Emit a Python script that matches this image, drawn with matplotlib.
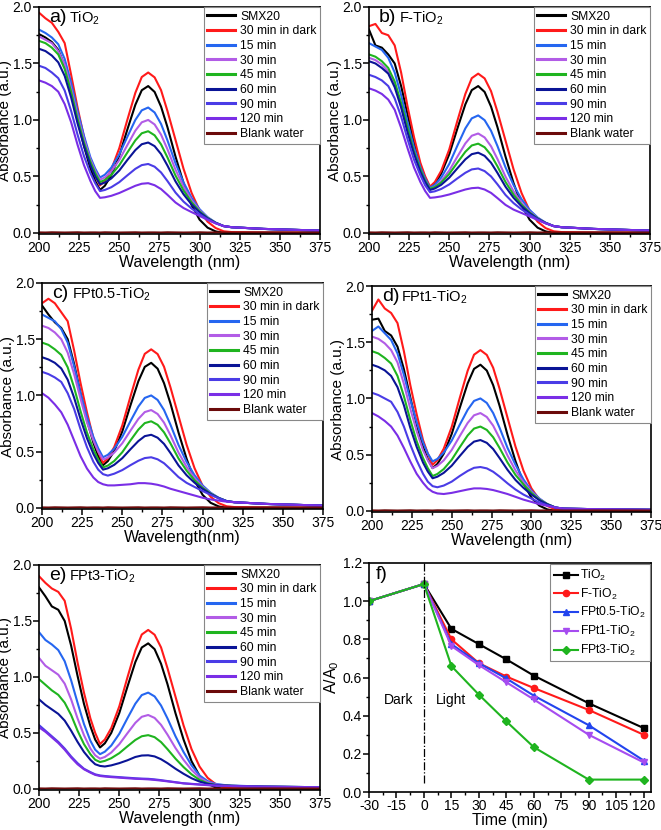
import matplotlib
matplotlib.use('Agg')
import matplotlib.pyplot as plt
from matplotlib.ticker import MultipleLocator

plt.rcParams['font.family'] = ['Liberation Sans', 'DejaVu Sans']
plt.rcParams['mathtext.default'] = 'regular'
plt.rcParams['axes.unicode_minus'] = False

WL = [200, 204, 208, 212, 216, 220, 224, 228, 232, 235, 238, 241, 245, 250, 255, 260,
      264, 268, 272, 276, 280, 285, 290, 295, 300, 305, 310, 315, 320, 340, 375]

LABELS = ['SMX20', '30 min in dark', '15 min', '30 min', '45 min', '60 min',
          '90 min', '120 min', 'Blank water']
COLORS = ['#000000', '#ff1a1a', '#2566f0', '#b25ce6', '#1fb41f', '#0a1496',
          '#4a3ce6', '#7a2ee6', '#6b0a0a']

BLANK = [0.004, 0.003, 0.005, 0.004, 0.003, 0.004, 0.005, 0.003, 0.004, 0.004, 0.003,
         0.005, 0.004, 0.003, 0.004, 0.005, 0.003, 0.004, 0.004, 0.003, 0.005, 0.004,
         0.003, 0.004, 0.005, 0.003, 0.004, 0.004, 0.003, 0.004, 0.003]

# ---- a) TiO2
A_SMX = [1.76, 1.73, 1.69, 1.62, 1.48, 1.26, 1.00, 0.77, 0.57, 0.46, 0.38, 0.417, 0.509, 0.684, 0.914, 1.134,
         1.263, 1.30, 1.248, 1.118, 0.936, 0.676, 0.442, 0.247, 0.117, 0.046, 0.013, 0.0, 0.0, 0.0, 0.0]
A_DARK = [1.95, 1.90, 1.86, 1.78, 1.68, 1.40, 1.11, 0.85, 0.63, 0.51, 0.42, 0.46, 0.56, 0.75, 1.00, 1.24,
          1.38, 1.42, 1.377, 1.264, 1.079, 0.824, 0.568, 0.355, 0.199, 0.099, 0.043, 0.014, 0.007, 0.003, 0.002]
A_15 = [1.80, 1.77, 1.73, 1.67, 1.54, 1.33, 1.08, 0.86, 0.67, 0.57, 0.49, 0.515, 0.577, 0.695, 0.85, 1.00,
        1.085, 1.11, 1.066, 0.965, 0.819, 0.617, 0.447, 0.311, 0.21, 0.139, 0.091, 0.06, 0.05, 0.035, 0.02]
A_30 = [1.74, 1.71, 1.68, 1.61, 1.49, 1.28, 1.04, 0.83, 0.65, 0.55, 0.47, 0.491, 0.544, 0.645, 0.777, 0.905,
        0.979, 1.00, 0.96, 0.87, 0.74, 0.56, 0.41, 0.29, 0.20, 0.135, 0.09, 0.06, 0.05, 0.035, 0.02]
A_45 = [1.70, 1.68, 1.64, 1.58, 1.45, 1.25, 1.01, 0.80, 0.63, 0.53, 0.45, 0.468, 0.513, 0.599, 0.711, 0.819,
        0.882, 0.90, 0.864, 0.784, 0.668, 0.508, 0.376, 0.271, 0.191, 0.132, 0.089, 0.06, 0.05, 0.035, 0.02]
A_60 = [1.63, 1.61, 1.57, 1.51, 1.39, 1.20, 0.97, 0.77, 0.60, 0.50, 0.43, 0.445, 0.482, 0.552, 0.645, 0.733,
        0.785, 0.80, 0.768, 0.698, 0.596, 0.456, 0.342, 0.252, 0.182, 0.128, 0.088, 0.06, 0.05, 0.035, 0.02]
A_90 = [1.48, 1.46, 1.42, 1.37, 1.26, 1.08, 0.87, 0.68, 0.53, 0.44, 0.37, 0.38, 0.404, 0.449, 0.509, 0.567,
        0.60, 0.61, 0.586, 0.535, 0.459, 0.357, 0.277, 0.216, 0.165, 0.121, 0.086, 0.06, 0.05, 0.035, 0.02]
A_120 = [1.35, 1.33, 1.30, 1.25, 1.14, 0.98, 0.78, 0.60, 0.46, 0.37, 0.31, 0.315, 0.328, 0.353, 0.385, 0.417,
         0.435, 0.44, 0.422, 0.388, 0.337, 0.269, 0.22, 0.184, 0.15, 0.115, 0.084, 0.06, 0.05, 0.035, 0.02]

# ---- b) F-TiO2
B_SMX = [1.80, 1.66, 1.64, 1.58, 1.50, 1.30, 1.05, 0.80, 0.60, 0.48, 0.40, 0.436, 0.526, 0.697, 0.922, 1.138,
         1.264, 1.30, 1.248, 1.118, 0.936, 0.676, 0.442, 0.247, 0.117, 0.046, 0.013, 0.0, 0.0, 0.0, 0.0]
B_DARK = [1.83, 1.85, 1.77, 1.75, 1.66, 1.42, 1.12, 0.85, 0.62, 0.50, 0.41, 0.45, 0.55, 0.74, 0.99, 1.23,
          1.37, 1.41, 1.368, 1.255, 1.072, 0.818, 0.564, 0.353, 0.197, 0.099, 0.042, 0.014, 0.007, 0.003, 0.002]
B_15 = [1.68, 1.65, 1.62, 1.55, 1.42, 1.22, 0.98, 0.76, 0.58, 0.48, 0.40, 0.426, 0.49, 0.611, 0.771, 0.925,
        1.014, 1.04, 0.998, 0.904, 0.769, 0.581, 0.424, 0.298, 0.204, 0.136, 0.09, 0.06, 0.05, 0.035, 0.02]
B_30 = [1.55, 1.53, 1.49, 1.43, 1.32, 1.13, 0.91, 0.72, 0.55, 0.46, 0.39, 0.41, 0.459, 0.552, 0.674, 0.792,
        0.86, 0.88, 0.845, 0.767, 0.654, 0.498, 0.369, 0.267, 0.189, 0.131, 0.089, 0.06, 0.05, 0.035, 0.02]
B_45 = [1.58, 1.56, 1.52, 1.46, 1.34, 1.15, 0.93, 0.72, 0.56, 0.46, 0.39, 0.406, 0.446, 0.522, 0.622, 0.718,
        0.774, 0.79, 0.758, 0.689, 0.589, 0.451, 0.339, 0.25, 0.181, 0.128, 0.088, 0.06, 0.05, 0.035, 0.02]
B_60 = [1.52, 1.50, 1.46, 1.41, 1.29, 1.11, 0.89, 0.70, 0.54, 0.45, 0.38, 0.393, 0.426, 0.489, 0.571, 0.651,
        0.697, 0.71, 0.682, 0.621, 0.531, 0.409, 0.311, 0.235, 0.174, 0.125, 0.087, 0.06, 0.05, 0.035, 0.02]
B_90 = [1.40, 1.38, 1.35, 1.30, 1.19, 1.03, 0.83, 0.65, 0.51, 0.42, 0.36, 0.368, 0.389, 0.429, 0.482, 0.532,
        0.562, 0.57, 0.547, 0.50, 0.43, 0.336, 0.264, 0.208, 0.161, 0.12, 0.086, 0.06, 0.05, 0.035, 0.02]
B_120 = [1.28, 1.26, 1.23, 1.18, 1.09, 0.93, 0.75, 0.58, 0.45, 0.37, 0.31, 0.314, 0.323, 0.34, 0.362, 0.384,
         0.396, 0.40, 0.384, 0.354, 0.308, 0.248, 0.206, 0.176, 0.146, 0.114, 0.084, 0.06, 0.05, 0.035, 0.02]

# ---- c) FPt0.5-TiO2
C_SMX = [1.80, 1.72, 1.65, 1.60, 1.50, 1.28, 1.02, 0.78, 0.58, 0.46, 0.38, 0.416, 0.507, 0.68, 0.908, 1.126,
         1.254, 1.29, 1.238, 1.109, 0.929, 0.671, 0.439, 0.245, 0.116, 0.045, 0.013, 0.0, 0.0, 0.0, 0.0]
C_DARK = [1.82, 1.86, 1.82, 1.74, 1.66, 1.40, 1.11, 0.85, 0.62, 0.50, 0.40, 0.44, 0.541, 0.733, 0.986, 1.228,
          1.37, 1.41, 1.368, 1.255, 1.072, 0.818, 0.564, 0.353, 0.197, 0.099, 0.042, 0.014, 0.007, 0.003, 0.002]
C_15 = [1.72, 1.69, 1.66, 1.59, 1.47, 1.26, 1.02, 0.81, 0.63, 0.53, 0.45, 0.472, 0.527, 0.632, 0.769, 0.901,
        0.978, 1.00, 0.96, 0.87, 0.74, 0.56, 0.41, 0.29, 0.20, 0.135, 0.09, 0.06, 0.05, 0.035, 0.02]
C_30 = [1.62, 1.60, 1.56, 1.50, 1.38, 1.19, 0.97, 0.76, 0.60, 0.50, 0.43, 0.448, 0.492, 0.575, 0.685, 0.791,
        0.852, 0.87, 0.835, 0.758, 0.646, 0.492, 0.366, 0.265, 0.188, 0.13, 0.089, 0.06, 0.05, 0.035, 0.02]
C_45 = [1.47, 1.45, 1.41, 1.36, 1.25, 1.07, 0.86, 0.67, 0.52, 0.43, 0.36, 0.376, 0.417, 0.495, 0.598, 0.696,
        0.754, 0.77, 0.739, 0.672, 0.574, 0.44, 0.332, 0.246, 0.179, 0.127, 0.088, 0.06, 0.05, 0.035, 0.02]
C_60 = [1.34, 1.32, 1.29, 1.24, 1.14, 0.98, 0.79, 0.62, 0.48, 0.40, 0.34, 0.352, 0.383, 0.442, 0.52, 0.594,
        0.638, 0.65, 0.624, 0.569, 0.488, 0.378, 0.291, 0.224, 0.169, 0.123, 0.087, 0.06, 0.05, 0.035, 0.02]
C_90 = [1.21, 1.19, 1.16, 1.12, 1.02, 0.88, 0.70, 0.54, 0.41, 0.34, 0.30, 0.287, 0.304, 0.336, 0.379, 0.419,
        0.443, 0.45, 0.432, 0.397, 0.344, 0.274, 0.223, 0.186, 0.15, 0.116, 0.085, 0.06, 0.05, 0.035, 0.02]
C_120 = [1.02, 0.98, 0.92, 0.85, 0.74, 0.60, 0.46, 0.35, 0.27, 0.23, 0.21, 0.20, 0.20, 0.205, 0.21, 0.22,
         0.22, 0.215, 0.205, 0.19, 0.17, 0.15, 0.13, 0.11, 0.09, 0.075, 0.065, 0.055, 0.05, 0.035, 0.02]

# ---- d) FPt1-TiO2
D_SMX = [1.70, 1.71, 1.60, 1.56, 1.46, 1.26, 1.01, 0.77, 0.57, 0.46, 0.38, 0.417, 0.509, 0.684, 0.914, 1.134,
         1.263, 1.30, 1.248, 1.118, 0.936, 0.676, 0.442, 0.247, 0.117, 0.046, 0.013, 0.0, 0.0, 0.0, 0.0]
D_DARK = [1.78, 1.88, 1.80, 1.76, 1.67, 1.42, 1.12, 0.86, 0.63, 0.51, 0.41, 0.451, 0.553, 0.747, 1.002, 1.246,
          1.389, 1.43, 1.387, 1.273, 1.087, 0.829, 0.572, 0.358, 0.20, 0.10, 0.043, 0.014, 0.007, 0.003, 0.002]
D_15 = [1.60, 1.64, 1.58, 1.52, 1.40, 1.21, 0.99, 0.79, 0.61, 0.51, 0.44, 0.462, 0.518, 0.625, 0.765, 0.899,
        0.978, 1.00, 0.96, 0.87, 0.74, 0.56, 0.41, 0.28, 0.18, 0.11, 0.06, 0.03, 0.02, 0.015, 0.01]
D_30 = [1.55, 1.53, 1.49, 1.43, 1.32, 1.13, 0.91, 0.71, 0.54, 0.45, 0.38, 0.40, 0.449, 0.542, 0.664, 0.782,
        0.85, 0.87, 0.835, 0.758, 0.646, 0.492, 0.36, 0.255, 0.17, 0.105, 0.06, 0.03, 0.02, 0.015, 0.01]
D_45 = [1.42, 1.40, 1.36, 1.31, 1.20, 1.02, 0.81, 0.62, 0.47, 0.38, 0.31, 0.328, 0.372, 0.455, 0.565, 0.671,
        0.732, 0.75, 0.72, 0.655, 0.56, 0.43, 0.32, 0.235, 0.16, 0.10, 0.06, 0.03, 0.02, 0.015, 0.01]
D_60 = [1.30, 1.28, 1.25, 1.20, 1.10, 0.94, 0.74, 0.57, 0.43, 0.35, 0.29, 0.304, 0.338, 0.402, 0.487, 0.569,
        0.616, 0.63, 0.605, 0.55, 0.47, 0.365, 0.275, 0.205, 0.145, 0.095, 0.058, 0.03, 0.02, 0.015, 0.01]
D_90 = [1.05, 1.03, 1.00, 0.97, 0.88, 0.75, 0.59, 0.45, 0.33, 0.26, 0.22, 0.21, 0.225, 0.26, 0.31, 0.355,
        0.383, 0.39, 0.378, 0.348, 0.305, 0.245, 0.19, 0.145, 0.11, 0.075, 0.05, 0.03, 0.02, 0.015, 0.01]
D_120 = [0.87, 0.84, 0.80, 0.75, 0.67, 0.56, 0.44, 0.33, 0.25, 0.20, 0.17, 0.155, 0.15, 0.16, 0.175, 0.19,
         0.20, 0.20, 0.195, 0.185, 0.17, 0.15, 0.125, 0.10, 0.08, 0.06, 0.045, 0.03, 0.02, 0.015, 0.01]

# ---- e) FPt3-TiO2
E_SMX = [1.80, 1.72, 1.63, 1.60, 1.50, 1.28, 1.01, 0.76, 0.56, 0.44, 0.37, 0.407, 0.50, 0.677, 0.909, 1.133,
         1.263, 1.30, 1.248, 1.118, 0.936, 0.676, 0.442, 0.247, 0.117, 0.046, 0.013, 0.0, 0.0, 0.0, 0.0]
E_DARK = [1.90, 1.84, 1.79, 1.76, 1.68, 1.43, 1.13, 0.86, 0.63, 0.50, 0.40, 0.441, 0.543, 0.737, 0.992, 1.236,
          1.379, 1.42, 1.377, 1.264, 1.079, 0.824, 0.568, 0.355, 0.199, 0.099, 0.043, 0.014, 0.007, 0.003, 0.002]
E_15 = [1.40, 1.33, 1.29, 1.24, 1.14, 0.97, 0.77, 0.58, 0.43, 0.35, 0.31, 0.332, 0.387, 0.492, 0.629, 0.761,
        0.838, 0.86, 0.826, 0.745, 0.63, 0.47, 0.33, 0.21, 0.12, 0.07, 0.045, 0.035, 0.03, 0.02, 0.015]
E_30 = [1.17, 1.10, 1.06, 1.02, 0.94, 0.80, 0.63, 0.48, 0.36, 0.30, 0.27, 0.285, 0.325, 0.399, 0.496, 0.59,
        0.644, 0.66, 0.634, 0.572, 0.485, 0.365, 0.26, 0.17, 0.10, 0.06, 0.04, 0.032, 0.028, 0.02, 0.015]
E_45 = [0.98, 0.93, 0.88, 0.84, 0.77, 0.66, 0.52, 0.40, 0.31, 0.26, 0.24, 0.25, 0.274, 0.319, 0.379, 0.437,
        0.47, 0.48, 0.462, 0.418, 0.355, 0.27, 0.195, 0.13, 0.08, 0.05, 0.035, 0.03, 0.027, 0.02, 0.015]
E_60 = [0.80, 0.75, 0.71, 0.67, 0.61, 0.52, 0.42, 0.33, 0.26, 0.22, 0.205, 0.20, 0.21, 0.23, 0.255, 0.285,
        0.298, 0.30, 0.29, 0.265, 0.23, 0.18, 0.135, 0.095, 0.065, 0.045, 0.035, 0.03, 0.027, 0.02, 0.015]
E_90 = [0.57, 0.52, 0.47, 0.42, 0.36, 0.29, 0.23, 0.18, 0.15, 0.13, 0.12, 0.115, 0.11, 0.105, 0.10, 0.095,
        0.092, 0.09, 0.085, 0.078, 0.07, 0.06, 0.05, 0.045, 0.04, 0.035, 0.03, 0.028, 0.025, 0.02, 0.015]
E_120 = [0.55, 0.51, 0.46, 0.41, 0.35, 0.28, 0.22, 0.175, 0.145, 0.125, 0.115, 0.11, 0.105, 0.10, 0.095, 0.09,
         0.088, 0.085, 0.08, 0.074, 0.067, 0.058, 0.049, 0.043, 0.038, 0.033, 0.029, 0.027, 0.024, 0.019, 0.014]

# ---- f) A/A0 vs time
TIME = [-30, 0, 15, 30, 45, 60, 90, 120]
K_TIO2 = [1.0, 1.09, 0.855, 0.775, 0.695, 0.61, 0.465, 0.335]
K_F = [1.0, 1.09, 0.80, 0.675, 0.605, 0.545, 0.43, 0.30]
K_FPT05 = [1.0, 1.09, 0.775, 0.675, 0.595, 0.505, 0.35, 0.165]
K_FPT1 = [1.0, 1.09, 0.765, 0.665, 0.575, 0.485, 0.30, 0.155]
K_FPT3 = [1.0, 1.09, 0.66, 0.51, 0.37, 0.235, 0.065, 0.065]
K_LABELS = ['TiO$_2$', 'F-TiO$_2$', 'FPt0.5-TiO$_2$', 'FPt1-TiO$_2$', 'FPt3-TiO$_2$']
K_COLORS = ['#000000', '#ff1a1a', '#2244ee', '#a64cf0', '#1fb41f']
K_MARKERS = ['s', 'o', '^', 'v', 'D']

W, H = 661, 830
fig = plt.figure(figsize=(W / 100, H / 100), dpi=100)


def box(l, r, t, b):
    return [l / W, 1 - b / H, (r - l) / W, (b - t) / H]


def style(ax):
    for s in ax.spines.values():
        s.set_linewidth(1.2)
    ax.tick_params(which='major', direction='out', length=4, width=1.1, labelsize=10, pad=1.2)
    ax.tick_params(which='minor', direction='out', length=2.5, width=1.0)


panels = [
    ('a)', 'TiO$_2$', 'Wavelength (nm)', box(39, 320, 7, 234),
     [A_SMX, A_DARK, A_15, A_30, A_45, A_60, A_90, A_120]),
    ('b)', 'F-TiO$_2$', 'Wavelength (nm)', box(369, 650, 7, 234),
     [B_SMX, B_DARK, B_15, B_30, B_45, B_60, B_90, B_120]),
    ('c)', 'FPt0.5-TiO$_2$', 'Wavelength(nm)', box(42, 323, 283, 509),
     [C_SMX, C_DARK, C_15, C_30, C_45, C_60, C_90, C_120]),
    ('d)', 'FPt1-TiO$_2$', 'Wavelength (nm)', box(372, 651, 286, 512),
     [D_SMX, D_DARK, D_15, D_30, D_45, D_60, D_90, D_120]),
    ('e)', 'FPt3-TiO$_2$', 'Wavelength (nm)', box(39, 320, 565, 790),
     [E_SMX, E_DARK, E_15, E_30, E_45, E_60, E_90, E_120]),
]

for tag, name, xlab, pos, series in panels:
    ax = fig.add_axes(pos)
    for ys, lab, c in zip(series + [BLANK], LABELS, COLORS):
        ax.plot(WL, ys, color=c, lw=1.5, label=lab)
    ax.set_xlim(200, 375)
    ax.set_ylim(-0.01, 2.0)
    ax.xaxis.set_major_locator(MultipleLocator(25))
    ax.xaxis.set_minor_locator(MultipleLocator(12.5))
    ax.yaxis.set_major_locator(MultipleLocator(0.5))
    ax.yaxis.set_minor_locator(MultipleLocator(0.25))
    ax.yaxis.set_major_formatter(plt.FormatStrFormatter('%.1f'))
    ax.set_xlabel(xlab, fontsize=11.5, labelpad=0)
    ax.set_ylabel('Absorbance (a.u.)', fontsize=11, labelpad=0)
    style(ax)
    ax.text(0.035, 0.955, tag, transform=ax.transAxes, fontsize=14, va='center')
    ax.text(0.105, 0.95, name, transform=ax.transAxes, fontsize=10.5, va='center')
    leg = ax.legend(loc='upper right', fontsize=8.7, handlelength=2.3, labelspacing=0.22,
                    borderpad=0.3, borderaxespad=0.0, handletextpad=0.4,
                    fancybox=False, framealpha=1)
    leg.get_frame().set_edgecolor('#888888')
    leg.get_frame().set_linewidth(0.8)
    for ln in leg.get_lines():
        ln.set_linewidth(2.2)

# panel f
ax = fig.add_axes(box(369, 651, 563, 792))
for ys, lab, c, m in zip([K_TIO2, K_F, K_FPT05, K_FPT1, K_FPT3], K_LABELS, K_COLORS, K_MARKERS):
    ax.plot(TIME, ys, color=c, lw=1.5, marker=m, ms=4.5 if m != 'D' else 3.8, label=lab)
ax.axvline(0, ymin=0.04, ymax=1.0, color='black', lw=0.9, ls='-.')
ax.set_xlim(-30, 124)
ax.set_ylim(0, 1.2)
ax.xaxis.set_major_locator(MultipleLocator(15))
ax.xaxis.set_minor_locator(MultipleLocator(7.5))
ax.yaxis.set_major_locator(MultipleLocator(0.2))
ax.yaxis.set_minor_locator(MultipleLocator(0.1))
ax.yaxis.set_major_formatter(plt.FormatStrFormatter('%.1f'))
ax.set_xlabel('Time (min)', fontsize=11.5, labelpad=0)
ax.set_ylabel('A/A$_0$', fontsize=11.5, labelpad=1)
style(ax)
ax.text(-23, 1.14, 'f)', fontsize=14, ha='center', va='center')
ax.text(-14, 0.48, 'Dark', fontsize=10, ha='center', va='center')
ax.text(15, 0.48, 'Light', fontsize=10, ha='center', va='center')
leg = ax.legend(loc='upper right', fontsize=8.7, handlelength=2.0, labelspacing=0.3,
                borderpad=0.3, borderaxespad=0.1, handletextpad=0.2,
                fancybox=False, framealpha=1)
leg.get_frame().set_edgecolor('#888888')
leg.get_frame().set_linewidth(0.8)

fig.savefig('out.png', dpi=100)
